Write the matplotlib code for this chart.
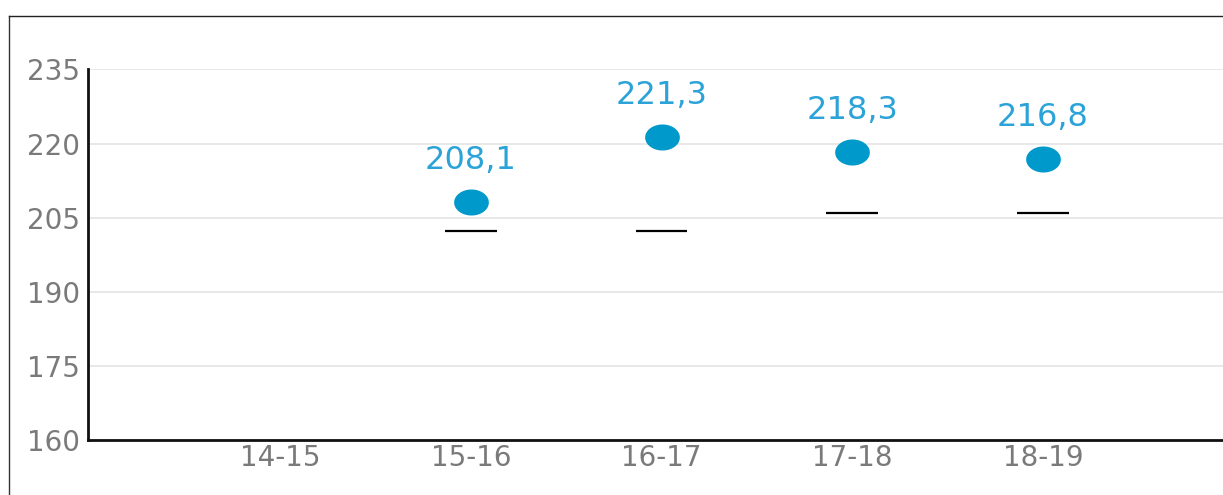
import numpy as np
import matplotlib
matplotlib.use("Agg")
import matplotlib.pyplot as plt
from matplotlib.path import Path
from matplotlib.lines import Line2D

categories = ["14-15", "15-16", "16-17", "17-18", "18-19"]
values = [None, 208.1, 221.3, 218.3, 216.8]
value_labels = ["", "208,1", "221,3", "218,3", "216,8"]
reference = [None, 202.4, 202.4, 206.0, 206.0]
yticks = [160, 175, 190, 205, 220, 235]

fig = plt.figure(figsize=(12.23, 4.95), dpi=100)
ax = fig.add_axes([0.072, 0.1105, 0.928, 0.7495])

x = np.arange(len(categories))
ax.set_xlim(-1.007, 4.944)
ax.set_ylim(160, 235)

# grid
ax.set_yticks(yticks)
ax.yaxis.grid(True, color="#e6e6e6", linewidth=1.3)
ax.set_axisbelow(True)

# ellipse marker
t = np.linspace(0, 2 * np.pi, 60)
ell = Path(np.column_stack([np.cos(t), 0.75 * np.sin(t)]), closed=True)

xs = [xi for xi, v in zip(x, values) if v is not None]
vs = [v for v in values if v is not None]
ax.plot(xs, vs, linestyle="none", marker=ell, markersize=25,
        color="#0099cc", markeredgewidth=0, zorder=3)

for xi, v, lab in zip(x, values, value_labels):
    if v is None:
        continue
    ax.annotate(lab, (xi, v), xytext=(0, 30), textcoords="offset points",
                ha="center", va="center", fontsize=23, color="#2ba3d8",
                family="DejaVu Sans")

for xi, r in zip(x, reference):
    if r is None:
        continue
    ax.hlines(r, xi - 0.136, xi + 0.136, color="black", linewidth=1.6, zorder=3)

ax.set_xticks(x)
ax.set_xticklabels(categories)
ax.tick_params(axis="both", length=0, labelsize=20, labelcolor="#7a7a7a")
ax.tick_params(axis="y", pad=6)
ax.tick_params(axis="x", pad=3)
for lab in ax.get_xticklabels() + ax.get_yticklabels():
    lab.set_family("DejaVu Sans")

for s in ["top", "right"]:
    ax.spines[s].set_visible(False)
for s in ["left", "bottom"]:
    ax.spines[s].set_linewidth(2)
    ax.spines[s].set_color("#111111")

# figure border (left and top)
fig.add_artist(Line2D([8.5 / 1223, 8.5 / 1223], [0, 1 - 15.5 / 495],
                      transform=fig.transFigure, color="#333333", linewidth=1))
fig.add_artist(Line2D([8.5 / 1223, 1], [1 - 15.5 / 495, 1 - 15.5 / 495],
                      transform=fig.transFigure, color="#222222", linewidth=1))

fig.savefig("out.png", dpi=100)
